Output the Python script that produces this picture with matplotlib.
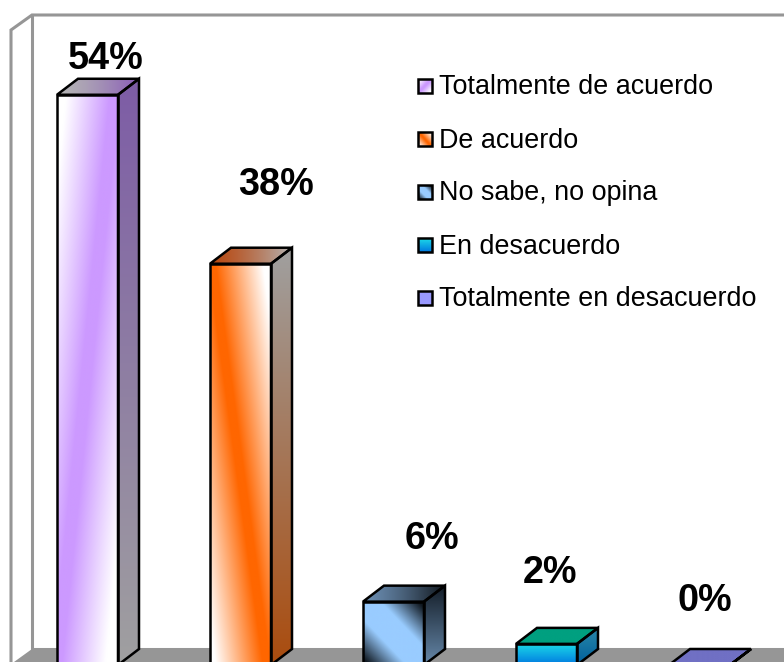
import numpy as np
import matplotlib
matplotlib.use('Agg')
import matplotlib.pyplot as plt
from matplotlib.patches import Polygon, Rectangle

plt.rcParams['font.family'] = ['Liberation Sans', 'DejaVu Sans']

categories = ['Totalmente de acuerdo', 'De acuerdo', 'No sabe, no opina',
              'En desacuerdo', 'Totalmente en desacuerdo']
values = [54, 38, 6, 2, 0]
value_labels = ['54%', '38%', '6%', '2%', '0%']

# pixel offset of each data label from the top of its bar
label_dx = [18, 35, 38, 3, 5]
label_dy = [36, 79, 63, 71, 64]

# front face: colour goes c0 -> c1 with (|au*u + av*v + off| - lo) / w
front_grad = [
    (1, 0.95, -0.95, 0.08, 0.72, '#CC99FF', '#FFFFFF'),
    (1, -0.9, -0.03, 0.06, 0.78, '#FF6600', '#FFFFFF'),
    (1, -1, 0, 0.28, 0.62, '#99CCFF', '#101820'),
    (0, 1, 0, 0, 1, '#1CDCE8', '#0078E0'),
    (0, 1, 0, 0, 1, '#9999FF', '#9999FF'),
]
# side goes top -> bottom, top face goes left -> right
side_cols = [('#7D5CA6', '#A0A0A0'), ('#A0A0A0', '#AA4C0E'), ('#131C26', '#6688AA'),
             ('#2A88A8', '#005F9C'), ('#5C5CA8', '#5C5CA8')]
top_cols = [('#B4B4B4', '#8A5CB8'), ('#B84A14', '#B4B4B4'), ('#6A8CB0', '#10161C'),
            ('#00A080', '#00A080'), ('#7070C4', '#7070C4')]

W, H = 784, 662
FRAME = '#969696'
EDGE_LW = 1.8

# bar axes limits and depth, picked so the bars land where they do in the picture
X_STEP = 153.0
X_FIRST = 87.5
Y_ZERO = 665.0
Y_SCALE = 10.56
BAR_W = 61 / X_STEP
DEPTH_X = 21 / X_STEP
DEPTH_Y = 16 / Y_SCALE


def rgb(c):
    return np.array(matplotlib.colors.to_rgb(c))


def paint(ax, extent, clip, func):
    """Fill extent with an image of func(u, v) and clip it to a patch."""
    n = 200
    u, v = np.meshgrid(np.linspace(0, 1, n), np.linspace(0, 1, n))
    img = ax.imshow(func(u, v), extent=extent, aspect='auto', origin='upper',
                    interpolation='bilinear', zorder=2)
    img.set_clip_path(clip)


def mix(c0, c1, t):
    t = np.clip(t, 0, 1)[..., None]
    return rgb(c0) * (1 - t) + rgb(c1) * t


def front_func(style):
    au, av, off, lo, w, c0, c1 = style
    return lambda u, v: mix(c0, c1, (np.abs(au * u + av * v + off) - lo) / w)


fig = plt.figure(figsize=(W / 100, H / 100), dpi=100)

# frame, floor and legend in plain pixels
bg = fig.add_axes([0, 0, 1, 1])
bg.set_xlim(0, W)
bg.set_ylim(H, 0)
bg.axis('off')
bg.add_patch(Polygon([(32, 649), (W, 649), (W, H), (14, H)], fc=FRAME, ec='none'))
bg.plot([11, 11, 32, W], [H, 30, 15, 15], color=FRAME, lw=2.2, solid_joinstyle='miter')
bg.plot([32, 32, W], [15, 649, 649], color=FRAME, lw=2.2, solid_joinstyle='miter')

# bars in data coordinates
ax = fig.add_axes([0, 0, 1, 1])
ax.patch.set_alpha(0)
ax.set_xlim(-X_FIRST / X_STEP, (W - X_FIRST) / X_STEP)
ax.set_ylim((Y_ZERO - H) / Y_SCALE, Y_ZERO / Y_SCALE)
ax.autoscale(False)
ax.axis('off')

xs = np.arange(len(values))
for i, val in enumerate(values):
    x0, x1 = i - BAR_W / 2, i + BAR_W / 2
    side = Polygon([(x1, 0), (x1 + DEPTH_X, DEPTH_Y), (x1 + DEPTH_X, val + DEPTH_Y), (x1, val)],
                   fc='none', ec='black', lw=EDGE_LW, zorder=3, joinstyle='miter')
    top = Polygon([(x0, val), (x1, val), (x1 + DEPTH_X, val + DEPTH_Y), (x0 + DEPTH_X, val + DEPTH_Y)],
                  fc='none', ec='black', lw=EDGE_LW, zorder=3, joinstyle='miter')
    ax.add_patch(side)
    ax.add_patch(top)
    s0, s1 = side_cols[i]
    t0, t1 = top_cols[i]
    paint(ax, (x1, x1 + DEPTH_X, 0, val + DEPTH_Y), side,
          lambda u, v, a=s0, b=s1: mix(a, b, v))
    paint(ax, (x0, x1 + DEPTH_X, val, val + DEPTH_Y), top,
          lambda u, v, a=t0, b=t1: mix(a, b, u ** 1.4))

bars = ax.bar(xs, values, width=BAR_W, facecolor='none', edgecolor='black',
              linewidth=EDGE_LW, zorder=3)
for i, rect in enumerate(bars):
    if values[i] > 0:
        paint(ax, (rect.get_x(), rect.get_x() + rect.get_width(), 0, values[i]), rect,
              front_func(front_grad[i]))

for i, val in enumerate(values):
    ax.annotate(value_labels[i], (i, val), xytext=(label_dx[i], label_dy[i]),
                textcoords='offset pixels', ha='center', va='center', annotation_clip=False,
                fontsize=27.2, fontweight='bold', color='black', zorder=4)

# legend
for i, name in enumerate(categories):
    yc = 86 + 53 * i
    box = Rectangle((418, yc - 7), 14, 14, fc='none', ec='black', lw=EDGE_LW, zorder=3)
    bg.add_patch(box)
    paint(bg, (418, 432, yc + 7, yc - 7), box, front_func(front_grad[i]))
    bg.text(439, yc + 1.5, name, fontsize=19.35, color='black', va='center', ha='left', zorder=4)
bg.set_xlim(0, W)
bg.set_ylim(H, 0)

fig.savefig('out.png', dpi=100)
